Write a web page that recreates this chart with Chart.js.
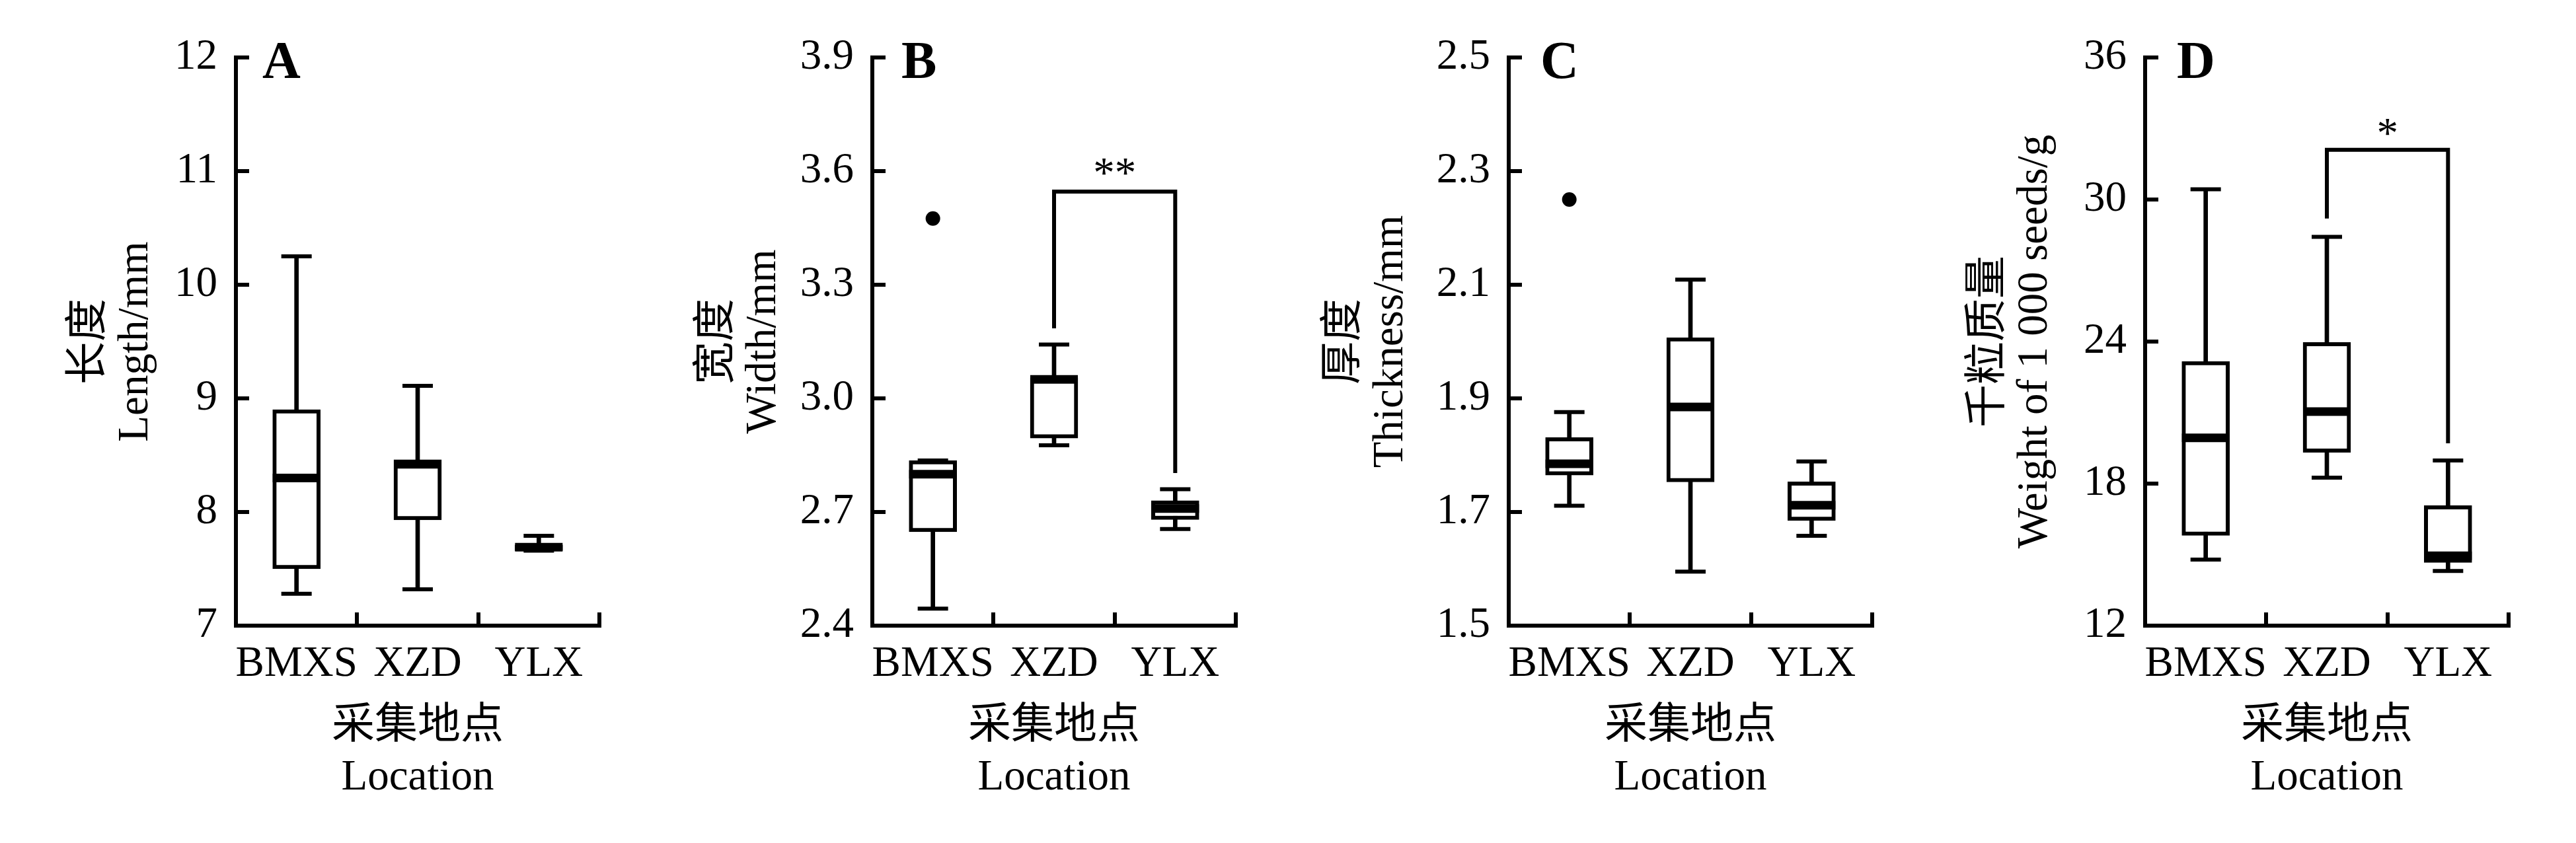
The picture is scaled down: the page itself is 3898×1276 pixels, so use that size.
<!DOCTYPE html>
<html>
<head>
<meta charset="utf-8">
<script src="https://cdn.jsdelivr.net/npm/chart.js@4/dist/chart.umd.min.js"></script>
<style>
html, body { margin: 0; padding: 0; background: #fff; width: 3898px; height: 1276px; overflow: hidden; }
canvas { position: absolute; top: 0; }
</style>
</head>
<body>
<canvas id="panelA" width="963" height="1276" style="left:0px"></canvas>
<canvas id="panelB" width="963" height="1276" style="left:963px"></canvas>
<canvas id="panelC" width="963" height="1276" style="left:1926px"></canvas>
<canvas id="panelD" width="963" height="1276" style="left:2889px"></canvas>
<script>
// ---------- data ----------
const locations = ['BMXS', 'XZD', 'YLX'];

// A: seed length (mm)
const lengthMin      = [7.28, 7.32, 7.66];
const lengthQ1       = [7.50, 7.93, 7.66];
const lengthMedian   = [8.30, 8.42, 7.69];
const lengthQ3       = [8.90, 8.46, 7.71];
const lengthMax      = [10.25, 9.11, 7.79];
const lengthOutliers = [null, null, null];
const lengthTicks    = [7, 8, 9, 10, 11, 12];

// B: seed width (mm)
const widthMin      = [2.445, 2.876, 2.655];
const widthQ1       = [2.648, 2.895, 2.680];
const widthMedian   = [2.800, 3.050, 2.709];
const widthQ3       = [2.836, 3.054, 2.730];
const widthMax      = [2.836, 3.142, 2.760];
const widthOutliers = [3.475, null, null];
const widthTicks    = [2.4, 2.7, 3.0, 3.3, 3.6, 3.9];
const widthBracket  = [3.185, 3.546, 3.546, 2.803];
const widthSigText  = '**';
const widthSigValue = 3.61;

// C: seed thickness (mm)
const thicknessMin      = [1.711, 1.595, 1.658];
const thicknessQ1       = [1.765, 1.753, 1.685];
const thicknessMedian   = [1.785, 1.885, 1.712];
const thicknessQ3       = [1.831, 2.007, 1.753];
const thicknessMax      = [1.876, 2.109, 1.789];
const thicknessOutliers = [2.25, null, null];
const thicknessTicks    = [1.5, 1.7, 1.9, 2.1, 2.3, 2.5];

// D: 1000-seed weight (g)
const weightMin      = [14.79, 18.25, 14.31];
const weightQ1       = [15.81, 19.32, 14.67];
const weightMedian   = [19.93, 21.04, 14.95];
const weightQ3       = [23.16, 23.96, 17.07];
const weightMax      = [30.43, 28.42, 18.98];
const weightOutliers = [null, null, null];
const weightTicks    = [12, 18, 24, 30, 36];
const weightBracket  = [29.2, 32.1, 32.1, 19.7];
const weightSigText  = '*';
const weightSigValue = 33.05;

const xTitle = ['采集地点', 'Location'];

// ---------- rendering ----------
const FONT = "'Liberation Serif', 'Noto Sans CJK SC', serif";

const textPlugin = {
  id: 'panelText',
  afterDatasetsDraw(chart, args, opts) {
    const { ctx, chartArea, scales } = chart;
    ctx.save();
    ctx.fillStyle = '#000';
    ctx.textAlign = 'left';
    ctx.textBaseline = 'alphabetic';
    ctx.font = 'bold 80px ' + FONT;
    ctx.fillText(opts.letter, chartArea.left + opts.letterDx, chartArea.top + 31);
    if (opts.sigText) {
      ctx.font = '65px ' + FONT;
      ctx.textAlign = 'center';
      const x = (scales.x.getPixelForValue(1) + scales.x.getPixelForValue(2)) / 2;
      const y = scales.y.getPixelForValue(opts.sigValue);
      ctx.fillText(opts.sigText, x, y + 30);
    }
    ctx.restore();
  }
};

function makePanel(id, p) {
  const datasets = [
    { type: 'bar', data: locations.map((_, i) => [p.min[i], p.max[i]]),
      backgroundColor: '#000', borderWidth: 0, barThickness: 6, grouped: false, order: 6 },
    { type: 'bar', data: locations.map((_, i) => [p.q1[i], p.q3[i]]),
      backgroundColor: '#fff', borderColor: '#000', borderWidth: 6, borderSkipped: false,
      barThickness: 72, grouped: false, order: 5 },
    { type: 'line', data: p.median, showLine: false, pointStyle: 'line', pointRadius: 36,
      pointBorderWidth: 13, pointBorderColor: '#000', order: 4 },
    { type: 'line', data: p.min, showLine: false, pointStyle: 'line', pointRadius: 23,
      pointBorderWidth: 6, pointBorderColor: '#000', order: 3 },
    { type: 'line', data: p.max, showLine: false, pointStyle: 'line', pointRadius: 23,
      pointBorderWidth: 6, pointBorderColor: '#000', order: 3 },
    { type: 'line', data: p.outliers, showLine: false, pointStyle: 'circle', pointRadius: 11,
      pointBackgroundColor: '#000', pointBorderWidth: 0, order: 2 }
  ];
  if (p.bracket) {
    datasets.push({
      type: 'line',
      data: [
        { x: locations[1], y: p.bracket[0] },
        { x: locations[1], y: p.bracket[1] },
        { x: locations[2], y: p.bracket[2] },
        { x: locations[2], y: p.bracket[3] }
      ],
      borderColor: '#000', borderWidth: 6, pointRadius: 0, tension: 0, fill: false,
      borderJoinStyle: 'miter', borderCapStyle: 'butt', order: 1
    });
  }
  new Chart(document.getElementById(id), {
    type: 'bar',
    data: { labels: locations, datasets },
    plugins: [textPlugin],
    options: {
      responsive: false,
      animation: false,
      events: [],
      layout: { padding: { top: 87, right: 56, bottom: 0, left: 0 } },
      plugins: {
        legend: { display: false },
        tooltip: { enabled: false },
        panelText: { letter: p.letter, letterDx: p.letterDx, sigText: p.sigText, sigValue: p.sigValue }
      },
      scales: {
        x: {
          type: 'category', offset: true,
          grid: { offset: true, drawOnChartArea: false, drawTicks: true, tickLength: -20, lineWidth: 6, color: '#000' },
          border: { display: true, width: 6, color: '#000' },
          ticks: { color: '#000', padding: 40, autoSkip: false, maxRotation: 0, minRotation: 0,
                   font: { family: FONT, size: 65, lineHeight: 1.2 } },
          title: { display: true, text: xTitle, color: '#000', padding: { top: 0, bottom: 59 },
                   font: { family: FONT, size: 65, lineHeight: 1.2 } },
          afterFit: (s) => { s.height = 329; }
        },
        y: {
          type: 'linear', min: p.ticks[0], max: p.ticks[p.ticks.length - 1],
          afterBuildTicks: (s) => { s.ticks = p.ticks.map(v => ({ value: v })); },
          grid: { drawOnChartArea: false, drawTicks: true, tickLength: -20, lineWidth: 6, color: '#000' },
          border: { display: true, width: 6, color: '#000' },
          ticks: { color: '#000', padding: 48, autoSkip: false,
                   font: { family: FONT, size: 65, lineHeight: 1.2 },
                   callback: (v) => Number(v).toFixed(p.decimals) },
          title: { display: true, text: p.yTitle, color: '#000', padding: { top: p.titlePad, bottom: 0 },
                   font: { family: FONT, size: 65, lineHeight: 1.09 } },
          afterFit: (s) => { s.width = 357; }
        }
      }
    }
  });
}

makePanel('panelA', {
  min: lengthMin, q1: lengthQ1, median: lengthMedian, q3: lengthQ3, max: lengthMax,
  outliers: lengthOutliers, ticks: lengthTicks, decimals: 0,
  yTitle: ['长度', 'Length/mm'], titlePad: 100, letter: 'A', letterDx: 40
});
makePanel('panelB', {
  min: widthMin, q1: widthQ1, median: widthMedian, q3: widthQ3, max: widthMax,
  outliers: widthOutliers, ticks: widthTicks, decimals: 1,
  yTitle: ['宽度', 'Width/mm'], titlePad: 87, letter: 'B', letterDx: 44,
  bracket: widthBracket, sigText: widthSigText, sigValue: widthSigValue
});
makePanel('panelC', {
  min: thicknessMin, q1: thicknessQ1, median: thicknessMedian, q3: thicknessQ3, max: thicknessMax,
  outliers: thicknessOutliers, ticks: thicknessTicks, decimals: 1,
  yTitle: ['厚度', 'Thickness/mm'], titlePad: 73, letter: 'C', letterDx: 48
});
makePanel('panelD', {
  min: weightMin, q1: weightQ1, median: weightMedian, q3: weightQ3, max: weightMax,
  outliers: weightOutliers, ticks: weightTicks, decimals: 0,
  yTitle: ['千粒质量', 'Weight of 1 000 seeds/g'], titlePad: 85, letter: 'D', letterDx: 48,
  bracket: weightBracket, sigText: weightSigText, sigValue: weightSigValue
});
</script>
</body>
</html>
